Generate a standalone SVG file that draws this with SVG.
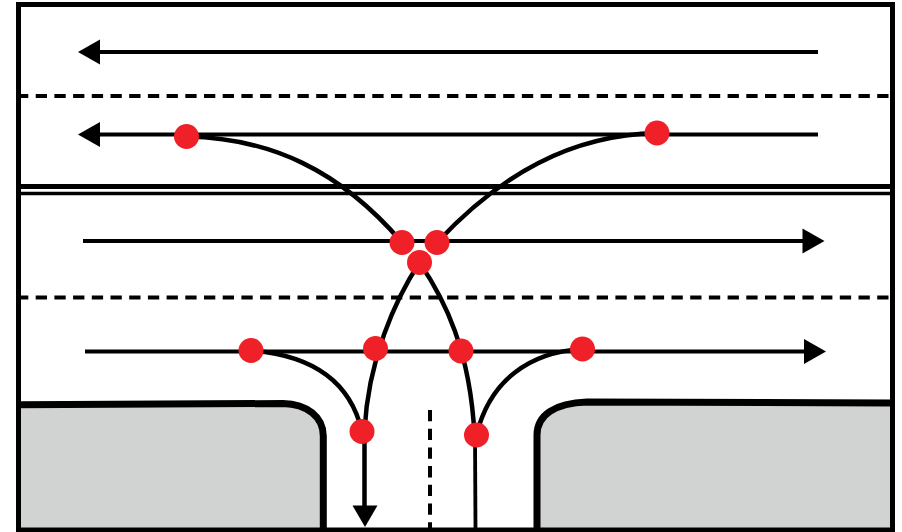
<svg xmlns="http://www.w3.org/2000/svg" width="902" height="532" viewBox="0 0 902 532">
<style>
.lane{fill:none;stroke:#000;stroke-width:3.800}
.turn{fill:none;stroke:#000;stroke-width:4.500}
.dash{fill:none;stroke:#000;stroke-width:4;stroke-dasharray:11.300 7.400}
.curb{fill:none;stroke:#000;stroke-width:7}
.ground{fill:#d1d3d2}
.head{fill:#000}
.pt{fill:#ef2028}
</style>
<rect width="902" height="532" fill="#fff"/>
<g id="islands">
<path class="ground" d="M19,404.700 L283,403.500 C307,404 323.300,417 323.300,436 L323.300,530 L19,530 Z"/>
<path class="ground" d="M891,403 L587,402 C555,403 537,415 537,435 L537,530 L891,530 Z"/>
<path class="curb" d="M19,404.700 L283,403.500 C307,404 323.300,417 323.300,436 L323.300,530"/>
<path class="curb" d="M891,403 L587,402 C555,403 537,415 537,435 L537,530"/>
</g>
<g id="frame" fill="none" stroke="#000">
<rect x="18.500" y="4.500" width="874" height="525.500" stroke-width="5"/>
<path d="M19,186.500 H892" stroke-width="5"/>
<path d="M19,193.500 H892" stroke-width="3.500"/>
</g>
<g id="connectors">
<path class="dash" stroke-dashoffset="4" d="M21,96 H889"/>
<path class="dash" stroke-dashoffset="4" d="M21,297.500 H889"/>
<path class="dash" d="M430,410 V529"/>
<path class="lane" d="M818,52 H98"/>
<polygon class="head" points="78,52 100,39.500 100,64.500"/>
<path class="lane" d="M818,134.500 H98"/>
<polygon class="head" points="78,134.500 100,122 100,147"/>
<path class="lane" d="M83,241 H805"/>
<polygon class="head" points="824.500,241 802.500,228.500 802.500,253.500"/>
<path class="lane" d="M85,351.500 H806"/>
<polygon class="head" points="826,351.500 804,339 804,364"/>
<path class="turn" d="M186.500,136.500 C270,138 340,170 402,242.500"/>
<path class="turn" d="M657,133 C570,135 500,175 437,242.500"/>
<path class="turn" d="M419.500,262.500 C395,300 368,360 364.500,431 L364.500,508"/>
<polygon class="head" points="365,527 352.500,505.500 377.500,505.500"/>
<path class="turn" d="M419.500,262.500 C445,300 470,350 474.500,435"/>
<path class="lane" d="M475,435 L475.500,529"/>
<path class="turn" d="M251,350.500 C310,355 350,380 362,431.500"/>
<path class="turn" d="M582.500,349 C530,352 490,380 476.500,435"/>
</g>
<g id="p1"><circle class="pt" cx="186.500" cy="136.500" r="12.500"/></g>
<g id="p2"><circle class="pt" cx="657" cy="133" r="12.500"/></g>
<g id="p3"><circle class="pt" cx="402" cy="242.500" r="12.500"/></g>
<g id="p4"><circle class="pt" cx="437" cy="242.500" r="12.500"/></g>
<g id="p5"><circle class="pt" cx="419.500" cy="262.500" r="12.500"/></g>
<g id="p6"><circle class="pt" cx="375.500" cy="348.500" r="12.500"/></g>
<g id="p7"><circle class="pt" cx="461" cy="351" r="12.500"/></g>
<g id="p8"><circle class="pt" cx="251" cy="350.500" r="12.500"/></g>
<g id="p9"><circle class="pt" cx="582.500" cy="349" r="12.500"/></g>
<g id="p10"><circle class="pt" cx="362" cy="431.500" r="12.500"/></g>
<g id="p11"><circle class="pt" cx="476.500" cy="435" r="12.500"/></g>
</svg>
